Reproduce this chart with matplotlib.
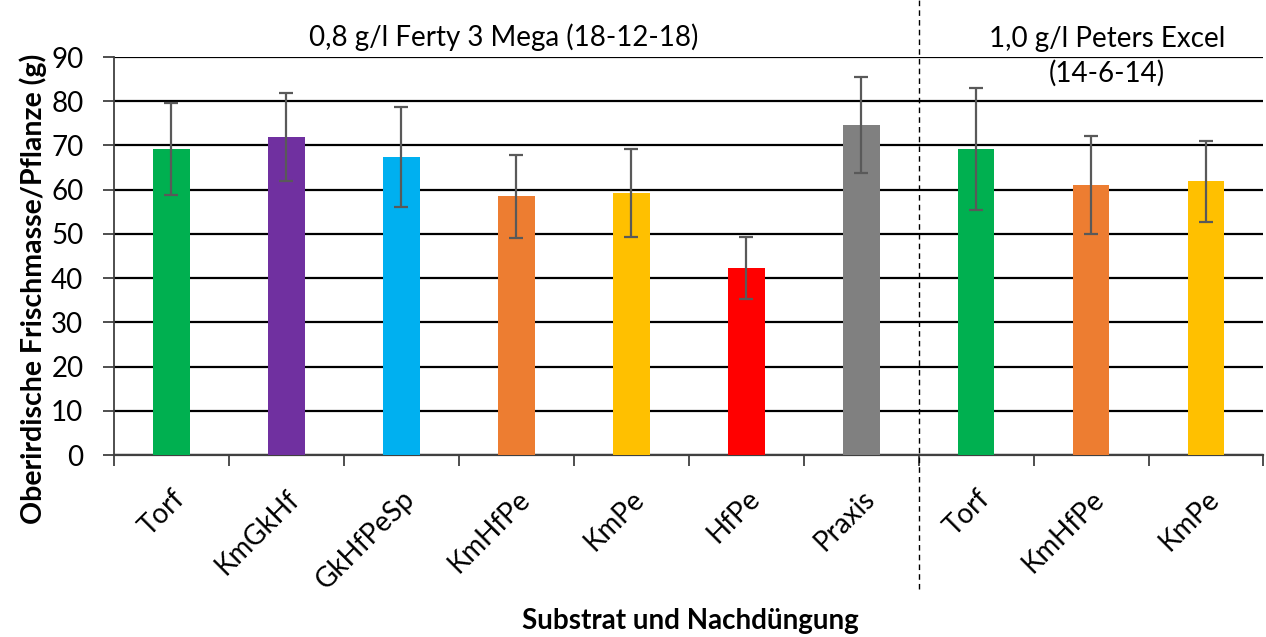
import matplotlib
matplotlib.use("Agg")
import matplotlib.pyplot as plt
import numpy as np

categories = ["Torf", "KmGkHf", "GkHfPeSp", "KmHfPe", "KmPe", "HfPe", "Praxis",
              "Torf", "KmHfPe", "KmPe"]
means = [69.3, 71.9, 67.3, 58.5, 59.3, 42.2, 74.6, 69.2, 61.0, 61.9]
errors = [10.4, 10.0, 11.3, 9.4, 9.9, 7.0, 10.8, 13.9, 11.1, 9.1]
colors = ["#00B050", "#7030A0", "#00B0F0", "#ED7D31", "#FFC000", "#FF0000",
          "#808080", "#00B050", "#ED7D31", "#FFC000"]
group_labels = ["0,8 g/l Ferty 3 Mega (18-12-18)", "1,0 g/l Peters Excel\n(14-6-14)"]
yticks = list(range(0, 91, 10))

plt.rcParams['font.family'] = ['Lato', 'DejaVu Sans']

fig = plt.figure(figsize=(12.66, 6.37), dpi=100)
ax = fig.add_axes([0.090, 0.2857, 0.908, 0.6248])

x = np.arange(len(categories))
ax.bar(x, means, width=0.32, color=colors, zorder=3)
ax.errorbar(x, means, yerr=errors, fmt='none', ecolor='#595959', elinewidth=1.6,
            capsize=5, capthick=1.6, zorder=4)

ax.set_xlim(-0.5, len(categories) - 0.5)
ax.set_ylim(0, 90)
ax.set_yticks(yticks)
ax.set_yticklabels([str(v) for v in yticks], fontsize=20)
ax.yaxis.grid(True, color='black', linewidth=1.6, zorder=0)
ax.set_axisbelow(True)

ax.set_xticks(np.arange(-0.5, len(categories), 1.0))
ax.set_xticklabels([])
ax.set_xticks(x, minor=True)
ax.set_xticklabels(categories, minor=True, rotation=45, ha='right',
                   rotation_mode='anchor', fontsize=20)
ax.tick_params(axis='x', which='minor', length=0, pad=22)
ax.tick_params(axis='x', which='major', length=8, width=1.3, color='#404040', direction='out')
ax.tick_params(axis='y', length=8, width=1.3, color='#404040', direction='out', pad=14)

for s in ['top', 'right']:
    ax.spines[s].set_visible(False)
ax.spines['left'].set_color('#404040')
ax.spines['left'].set_linewidth(1.3)
ax.spines['bottom'].set_color('#404040')
ax.spines['bottom'].set_linewidth(1.6)

fig.text(33 / 1266, 1 - 289 / 637, "Oberirdische Frischmasse/Pflanze (g)", fontsize=20.5,
         fontweight='bold', rotation=90, ha='center', va='center')
fig.text(0.545, 0.005, "Substrat und Nachdüngung", fontsize=20, fontweight='bold',
         ha='center', va='bottom')

# separator line (dashed) between groups
sep_x = ax.transData.transform((6.5, 0))[0] / fig.bbox.width
fig.add_artist(plt.Line2D([sep_x, sep_x], [0.075, 1.0], transform=fig.transFigure,
                          color='black', linestyle=(0, (4, 3)), linewidth=1.0))

fig.text(ax.transData.transform((2.89, 0))[0] / fig.bbox.width, 1 - 37 / 637, group_labels[0],
         ha='center', va='center', fontsize=20)
fig.text(ax.transData.transform((8.14, 0))[0] / fig.bbox.width, 1 - 56.5 / 637, group_labels[1],
         ha='center', va='center', fontsize=20, linespacing=1.38)

fig.savefig("out.png", dpi=100)
